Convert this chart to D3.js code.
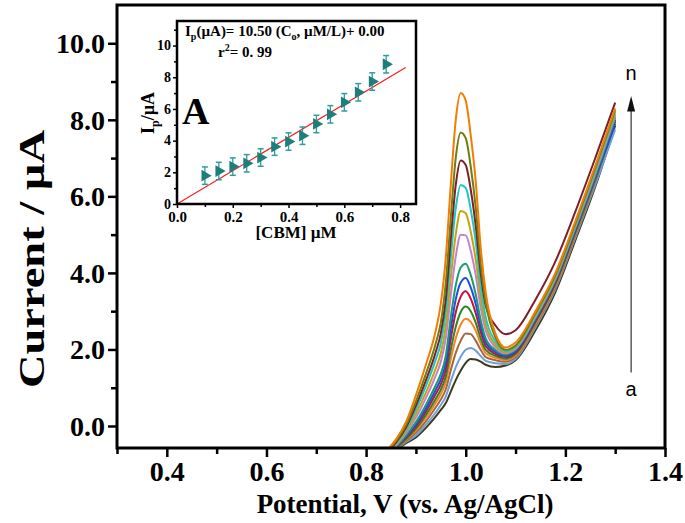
<!DOCTYPE html>
<html><head><meta charset="utf-8">
<script src="https://cdn.jsdelivr.net/npm/d3@7"></script>
<style>
body{margin:0;background:#fff;}
svg{display:block;}
text{font-family:"Liberation Serif","Times New Roman",serif;font-weight:bold;fill:#000;}
.sans{font-family:"Liberation Sans",Arial,sans-serif;font-weight:normal;}
</style></head>
<body><svg id="c" width="685" height="523"></svg>
<script>
// ---------- data ----------
const potential = [0.84,0.86,0.88,0.90,0.92,0.94,0.95,0.96,0.97,0.98,0.99,1.00,1.01,1.02,1.03,1.04,1.06,1.08,1.10,1.14,1.18,1.22,1.26,1.30];
const curveNames = ["a","b","c","d","e","f","g","h","i","j","k","l","m","n"];
const curveColors = ["#3d3b1c","#6f9fd8","#a5673f","#ff7f27","#228b22","#c0143c","#1f4ed8","#1a9a72","#c77fd6","#c9a20a","#1cc6c9","#7b1f2a","#6f7d12","#f57c00"];
const cur_a = [-0.9,-0.65,-0.45,-0.3,-0.05,0.25,0.42,0.6,0.9,1.2,1.45,1.65,1.75,1.74,1.68,1.6,1.54,1.58,1.72,2.5,3.5,4.85,6.25,7.85];
const cur_b = [-0.89,-0.64,-0.42,-0.25,0.03,0.36,0.55,0.77,1.17,1.54,1.81,1.99,2.04,1.97,1.83,1.70,1.64,1.62,1.75,2.58,3.58,4.92,6.3,7.75];
const cur_c = [-0.87,-0.62,-0.39,-0.18,0.12,0.49,0.69,0.96,1.46,1.91,2.23,2.42,2.40,2.23,1.99,1.80,1.72,1.68,1.8,2.63,3.63,4.98,6.4,8.0];
const cur_d = [-0.86,-0.60,-0.36,-0.12,0.21,0.61,0.83,1.14,1.75,2.29,2.65,2.80,2.72,2.49,2.16,1.90,1.78,1.72,1.84,2.67,3.67,5.02,6.45,8.1];
const cur_e = [-0.85,-0.59,-0.34,-0.07,0.29,0.71,0.95,1.30,1.99,2.59,2.98,3.12,3.0,2.70,2.29,1.99,1.83,1.76,1.88,2.71,3.71,5.05,6.45,7.95];
const cur_f = [-0.84,-0.57,-0.31,-0.01,0.38,0.84,1.09,1.48,2.28,2.97,3.38,3.52,3.33,2.95,2.46,2.09,1.88,1.80,1.92,2.75,3.75,5.1,6.5,8.0];
const cur_g = [-0.82,-0.56,-0.28,0.04,0.46,0.95,1.22,1.65,2.54,3.31,3.75,3.87,3.62,3.19,2.61,2.19,1.93,1.83,1.95,2.78,3.78,5.12,6.48,7.9];
const cur_h = [-0.81,-0.54,-0.25,0.10,0.55,1.07,1.36,1.84,2.84,3.68,4.14,4.24,3.95,3.44,2.77,2.29,1.98,1.87,1.99,2.82,3.82,5.17,6.55,8.05];
const cur_i = [-0.78,-0.51,-0.19,0.22,0.73,1.32,1.68,2.3,3.42,4.43,5.0,4.98,4.58,3.95,3.10,2.50,2.05,1.90,2.02,2.85,3.85,5.2,6.6,8.1];
const cur_j = [-0.76,-0.48,-0.14,0.32,0.87,1.51,1.9,2.6,3.87,5.01,5.62,5.56,5.08,4.35,3.35,2.66,2.12,1.93,2.05,2.88,3.88,5.23,6.65,8.15];
const cur_k = [-0.74,-0.45,-0.09,0.43,1.04,1.74,2.16,2.98,4.40,5.69,6.3,6.22,5.66,4.82,3.65,2.85,2.2,1.96,2.08,2.92,3.92,5.27,6.7,8.2];
const cur_l = [-0.71,-0.43,-0.04,0.53,1.19,1.94,2.42,3.32,4.88,6.30,6.94,6.82,6.18,5.24,4.0,3.15,2.62,2.4,2.5,3.3,4.3,5.6,7.0,8.45];
const cur_m = [-0.69,-0.39,0.02,0.64,1.36,2.17,2.7,3.75,5.43,7.01,7.67,7.52,6.78,5.72,4.24,3.23,2.3,1.99,2.1,2.95,3.95,5.3,6.75,8.25];
const cur_n = [-0.65,-0.35,0.1,0.8,1.6,2.5,3.2,4.4,6.3,8.0,8.70,8.5,7.6,6.4,4.67,3.5,2.4,2.05,2.18,3.0,4.0,5.35,6.8,8.3];
const currents = [cur_a,cur_b,cur_c,cur_d,cur_e,cur_f,cur_g,cur_h,cur_i,cur_j,cur_k,cur_l,cur_m,cur_n];

const xMajorTicks = [0.4,0.6,0.8,1.0,1.2,1.4];
const xMinorTicks = [0.3,0.5,0.7,0.9,1.1,1.3];
const yMajorTicks = [0,2,4,6,8,10];
const yMinorTicks = [1,3,5,7,9];

// inset
const conc = [0.10,0.15,0.20,0.25,0.30,0.35,0.40,0.45,0.50,0.55,0.60,0.65,0.70,0.75];
const peakCurrent = [1.79,2.08,2.36,2.57,2.93,3.62,3.94,4.31,5.05,5.66,6.42,7.05,7.73,8.82];
const peakErr = [0.55,0.55,0.55,0.55,0.55,0.55,0.55,0.55,0.55,0.55,0.55,0.55,0.55,0.55];
const fitSlope = 10.50, fitIntercept = 0.00, fitRange = [0, 0.82];
const insetXTicks = [0.0,0.2,0.4,0.6,0.8];
const insetXMinor = [0.1,0.3,0.5,0.7];
const insetYTicks = [0,2,4,6,8,10];
const insetYMinor = [1,3,5,7,9,11];

// ---------- drawing ----------
const svg = d3.select("#c");
svg.append("rect").attr("width",685).attr("height",523).attr("fill","#fff");

const x = d3.scaleLinear().domain([0.3,1.4]).range([117,665]);
const y = d3.scaleLinear().domain([-0.575,11]).range([448,5]);

svg.append("clipPath").attr("id","clipMain").append("rect")
  .attr("x",117).attr("y",5).attr("width",548).attr("height",443);

const line = d3.line().x((d,i)=>x(potential[i])).y(d=>y(d)).curve(d3.curveMonotoneX);
const gCurves = svg.append("g").attr("clip-path","url(#clipMain)");
currents.forEach((arr,k)=>{
  gCurves.append("path").datum(arr).attr("d",line)
    .attr("fill","none").attr("stroke",curveColors[k]).attr("stroke-width",2);
});

// axes
const gx = svg.append("g").attr("transform","translate(0,448)");
gx.call(d3.axisBottom(x).tickValues(xMajorTicks).tickSize(9).tickPadding(4).tickFormat(d3.format(".1f")));
const gxm = svg.append("g").attr("transform","translate(0,448)");
gxm.call(d3.axisBottom(x).tickValues(xMinorTicks).tickSize(6).tickFormat(""));
const gy = svg.append("g").attr("transform","translate(117,0)");
gy.call(d3.axisLeft(y).tickValues(yMajorTicks).tickSize(9).tickPadding(3).tickFormat(d3.format(".1f")));
const gym = svg.append("g").attr("transform","translate(117,0)");
gym.call(d3.axisLeft(y).tickValues(yMinorTicks).tickSize(6).tickFormat(""));
[gx,gxm,gy,gym].forEach(g=>{
  g.select(".domain").remove();
  g.selectAll(".tick line").attr("stroke","#000").attr("stroke-width",2.5);
});
gx.selectAll(".tick text").attr("font-size",28).attr("dy","0.72em").attr("font-family","Liberation Serif").attr("font-weight","bold");
gy.selectAll(".tick text").attr("font-size",28).attr("dy","0.34em").attr("font-family","Liberation Serif").attr("font-weight","bold");

// frame
svg.append("rect").attr("x",117).attr("y",5).attr("width",548).attr("height",443)
  .attr("fill","none").attr("stroke","#000").attr("stroke-width",3);

// axis titles
svg.append("text").attr("x",405).attr("y",513).attr("text-anchor","middle")
  .attr("font-size",27).text("Potential, V (vs. Ag/AgCl)");
svg.append("text").attr("transform","translate(44,259) rotate(-90)").attr("text-anchor","middle")
  .attr("font-size",36).attr("textLength",258).attr("lengthAdjust","spacingAndGlyphs").text("Current / µA");

// arrow a -> n
const arrowE = 1.332;
svg.append("line").attr("x1",x(arrowE)).attr("x2",x(arrowE)).attr("y1",y(1.4)).attr("y2",y(8.3))
  .attr("stroke","#333").attr("stroke-width",1.2);
svg.append("path").attr("d",d3.line()([[x(arrowE)-4,y(8.22)],[x(arrowE),y(8.62)],[x(arrowE)+4,y(8.22)]]))
  .attr("fill","#111");
svg.append("text").attr("class","sans").attr("x",x(arrowE)).attr("y",y(9.05)).attr("text-anchor","middle")
  .attr("font-size",20).text(curveNames[13]);
svg.append("text").attr("class","sans").attr("x",x(arrowE)).attr("y",y(0.78)).attr("text-anchor","middle")
  .attr("font-size",20).text(curveNames[0]);

// ---------- inset ----------
const ix = d3.scaleLinear().domain([0,0.857]).range([177,416]);
const iy = d3.scaleLinear().domain([0,11.55]).range([204,21]);
const gi = svg.append("g");
gi.append("rect").attr("x",177).attr("y",21).attr("width",239).attr("height",183).attr("fill","#fff");

const gix = gi.append("g").attr("transform","translate(0,204)");
gix.call(d3.axisBottom(ix).tickValues(insetXTicks).tickSize(4).tickPadding(3).tickFormat(d3.format(".1f")));
const gixm = gi.append("g").attr("transform","translate(0,204)");
gixm.call(d3.axisBottom(ix).tickValues(insetXMinor).tickSize(3).tickFormat(""));
const giy = gi.append("g").attr("transform","translate(177,0)");
giy.call(d3.axisLeft(iy).tickValues(insetYTicks).tickSize(4).tickPadding(2).tickFormat(d3.format("d")));
const giym = gi.append("g").attr("transform","translate(177,0)");
giym.call(d3.axisLeft(iy).tickValues(insetYMinor).tickSize(3).tickFormat(""));
[gix,gixm,giy,giym].forEach(g=>{
  g.select(".domain").remove();
  g.selectAll(".tick line").attr("stroke","#000").attr("stroke-width",1.5);
});
gix.selectAll(".tick text").attr("font-size",15).attr("dy","0.71em").attr("font-family","Liberation Serif").attr("font-weight","bold");
giy.selectAll(".tick text").attr("font-size",14).attr("dy","0.3em").attr("font-family","Liberation Serif").attr("font-weight","bold");

// fit line
gi.append("line").attr("x1",ix(fitRange[0])).attr("y1",iy(fitIntercept+fitSlope*fitRange[0]))
  .attr("x2",ix(fitRange[1])).attr("y2",iy(fitIntercept+fitSlope*fitRange[1]))
  .attr("stroke","#ff1a1a").attr("stroke-width",1.2);

// error bars
conc.forEach((c,i)=>{
  const cx = ix(c), t = iy(peakCurrent[i]+peakErr[i]), b = iy(peakCurrent[i]-peakErr[i]);
  gi.append("line").attr("x1",cx).attr("x2",cx).attr("y1",t).attr("y2",b).attr("stroke","#2f9c9c").attr("stroke-width",1.3);
  gi.append("line").attr("x1",cx-3).attr("x2",cx+3).attr("y1",t).attr("y2",t).attr("stroke","#2f9c9c").attr("stroke-width",1.5);
  gi.append("line").attr("x1",cx-3).attr("x2",cx+3).attr("y1",b).attr("y2",b).attr("stroke","#2f9c9c").attr("stroke-width",1.5);
});
// markers (right-pointing triangles)
const tri = d3.symbol().type(d3.symbolTriangle).size(60);
conc.forEach((c,i)=>{
  gi.append("path").attr("d",tri()).attr("transform",`translate(${ix(c)},${iy(peakCurrent[i])}) rotate(90)`)
    .attr("fill","#1c7f7c");
});

gi.append("rect").attr("x",177).attr("y",21).attr("width",239).attr("height",183)
  .attr("fill","none").attr("stroke","#000").attr("stroke-width",2.5);

// inset texts
const eq = gi.append("text").attr("x",185).attr("y",36).attr("font-size",15);
eq.append("tspan").text("I");
eq.append("tspan").attr("font-size",10).attr("dy",4).text("p");
eq.append("tspan").attr("dy",-4).text(`(µA)= ${fitSlope.toFixed(2)} (C`);
eq.append("tspan").attr("font-size",10).attr("dy",4).text("o");
eq.append("tspan").attr("dy",-4).text(`, µM/L)+ ${fitIntercept.toFixed(2)}`);
const r2 = gi.append("text").attr("x",218).attr("y",57).attr("font-size",15);
r2.append("tspan").text("r");
r2.append("tspan").attr("font-size",10).attr("dy",-6).text("2");
r2.append("tspan").attr("dy",6).text("= 0. 99");
gi.append("text").attr("x",182).attr("y",124).attr("font-size",38).text("A");

const yl = gi.append("text").attr("transform","translate(154,113) rotate(-90)").attr("text-anchor","middle").attr("font-size",18);
yl.append("tspan").text("I");
yl.append("tspan").attr("font-size",12).attr("dy",5).text("p");
yl.append("tspan").attr("dy",-5).text("/µA");
gi.append("text").attr("x",296).attr("y",238).attr("text-anchor","middle").attr("font-size",17).text("[CBM] µM");
</script></body></html>
